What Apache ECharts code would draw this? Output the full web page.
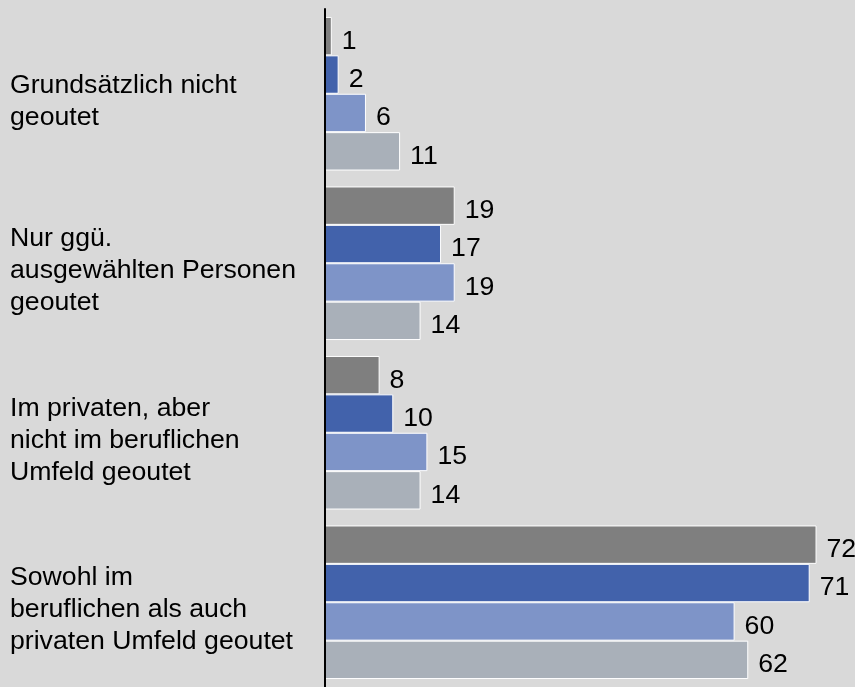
<!DOCTYPE html>
<html>
<head>
<meta charset="utf-8">
<script src="https://cdn.jsdelivr.net/npm/echarts@6/dist/echarts.min.js"></script>
<style>
  html, body { margin: 0; padding: 0; background: #d9d9d9; }
  #chart { width: 855px; height: 687px; }
</style>
</head>
<body>
<div id="chart"></div>
<script>
// categories, top to bottom
const categories = [
  'Grundsätzlich nicht\ngeoutet',
  'Nur ggü.\nausgewählten Personen\ngeoutet',
  'Im privaten, aber\nnicht im beruflichen\nUmfeld geoutet',
  'Sowohl im\nberuflichen als auch\nprivaten Umfeld geoutet'
]
// four series per group, top to bottom
const values1 = [1, 19, 8, 72]
const values2 = [2, 17, 10, 71]
const values3 = [6, 19, 15, 60]
const values4 = [11, 14, 14, 62]
const colors = ['#7f7f7f', '#4262ab', '#7e94c8', '#a9b0b9']

const font = 'Liberation Sans, Arial, sans-serif'

function makeSeries(data, i) {
  return {
    type: 'bar',
    data: data,
    barGap: '0%',
    barCategoryGap: '9.4%',
    itemStyle: {
      color: colors[i],
      borderColor: '#ffffff',
      borderWidth: 1
    },
    label: {
      show: true,
      position: 'right',
      distance: 10,
      offset: [0, 5],
      color: '#000',
      fontSize: 26.67,
      fontFamily: font
    },
    silent: true
  }
}

const chart = echarts.init(document.getElementById('chart'))
chart.setOption({
  backgroundColor: '#d9d9d9',
  animation: false,
  grid: {
    left: 325,
    top: 9,
    height: 680,
    right: 18
  },
  xAxis: {
    type: 'value',
    min: 0,
    max: 75,
    show: false
  },
  yAxis: {
    type: 'category',
    data: categories,
    inverse: true,
    z: 10,
    axisLine: { show: true, lineStyle: { color: '#000', width: 2 } },
    axisTick: { show: false },
    axisLabel: {
      align: 'left',
      margin: 315,
      color: '#000',
      fontSize: 26.67,
      fontFamily: font,
      lineHeight: 32,
      // small empty first line pushes the text block a bit down
      formatter: function (v) {
        return '{sp| }\n' + v.split('\n').map(function (s) { return '{t|' + s + '}' }).join('\n')
      },
      rich: {
        sp: { fontSize: 4, lineHeight: 15 },
        t: { fontSize: 26.67, fontFamily: font, lineHeight: 32, color: '#000' }
      }
    }
  },
  series: [values1, values2, values3, values4].map(makeSeries)
})
</script>
</body>
</html>
